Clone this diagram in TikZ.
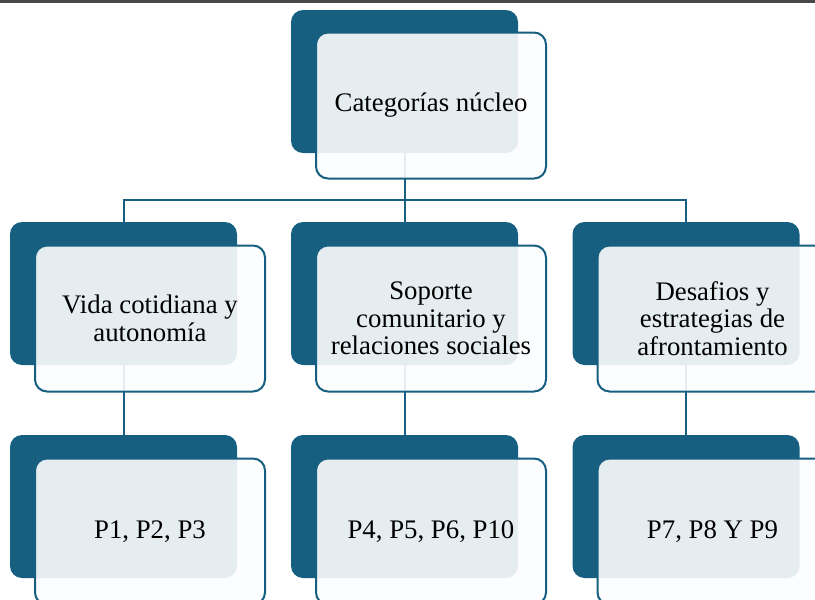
\documentclass[tikz,border=0pt]{standalone}
\usepackage{fontspec}
\setmainfont{Liberation Serif}
\definecolor{petrol}{RGB}{23,95,128}
\definecolor{paleface}{RGB}{252,253,254}

\begin{document}
\begin{tikzpicture}[
x=0.5pt, y=-0.5pt,
backbox/.style={fill=petrol, rounded corners=6pt, minimum width=113.5pt, minimum height=71.5pt, inner sep=0pt},
frontbox/.style={draw=petrol, line width=1pt, fill=paleface, fill opacity=0.9, text opacity=1, rounded corners=6pt, minimum width=115pt, minimum height=73pt, inner sep=0pt, align=center, font=\fontsize{13.4}{13.8}\selectfont},
link/.style={draw=petrol, line width=1pt}
]
\clip (0,0) rectangle (815,600);
\fill[black!72] (0,0) rectangle (815,3);

% dark boxes behind
\node[backbox] (catback) at (404.5,81.5) {};
\node[backbox] (vidaback) at (123.5,293.5) {};
\node[backbox] (soporteback) at (404.5,293.5) {};
\node[backbox] (desafiosback) at (686,293.5) {};
\node[backbox] (pvidaback) at (123.5,506.5) {};
\node[backbox] (psoporteback) at (404.5,506.5) {};
\node[backbox] (pdesafiosback) at (686,506.5) {};

% connectors
\coordinate (bus) at (404.5,200);
\draw[link] (catback.south) -- (bus);
\draw[link] (vidaback.north) |- (bus);
\draw[link] (soporteback.north) -- (bus);
\draw[link] (desafiosback.north) |- (bus);
\draw[link] (vidaback.south) -- (pvidaback.north);
\draw[link] (soporteback.south) -- (psoporteback.north);
\draw[link] (desafiosback.south) -- (pdesafiosback.north);

% light boxes in front
\node[frontbox] (cat) at ([xshift=13.25pt,yshift=-12pt]catback.center) {Categorías núcleo};
\node[frontbox] (vida) at ([xshift=13.25pt,yshift=-12.5pt]vidaback.center) {Vida cotidiana y\\autonomía};
\node[frontbox] (soporte) at ([xshift=13.25pt,yshift=-12.5pt]soporteback.center) {Soporte\\comunitario y\\relaciones sociales};
\node[frontbox] (desafios) at ([xshift=13.25pt,yshift=-12.5pt]desafiosback.center) {Desafios y\\estrategias de\\afrontamiento};
\node[frontbox] (pvida) at ([xshift=13.25pt,yshift=-12.5pt]pvidaback.center) {P1, P2, P3};
\node[frontbox] (psoporte) at ([xshift=13.25pt,yshift=-12.5pt]psoporteback.center) {P4, P5, P6, P10};
\node[frontbox] (pdesafios) at ([xshift=13.25pt,yshift=-12.5pt]pdesafiosback.center) {P7, P8 Y P9};
\end{tikzpicture}
\end{document}
